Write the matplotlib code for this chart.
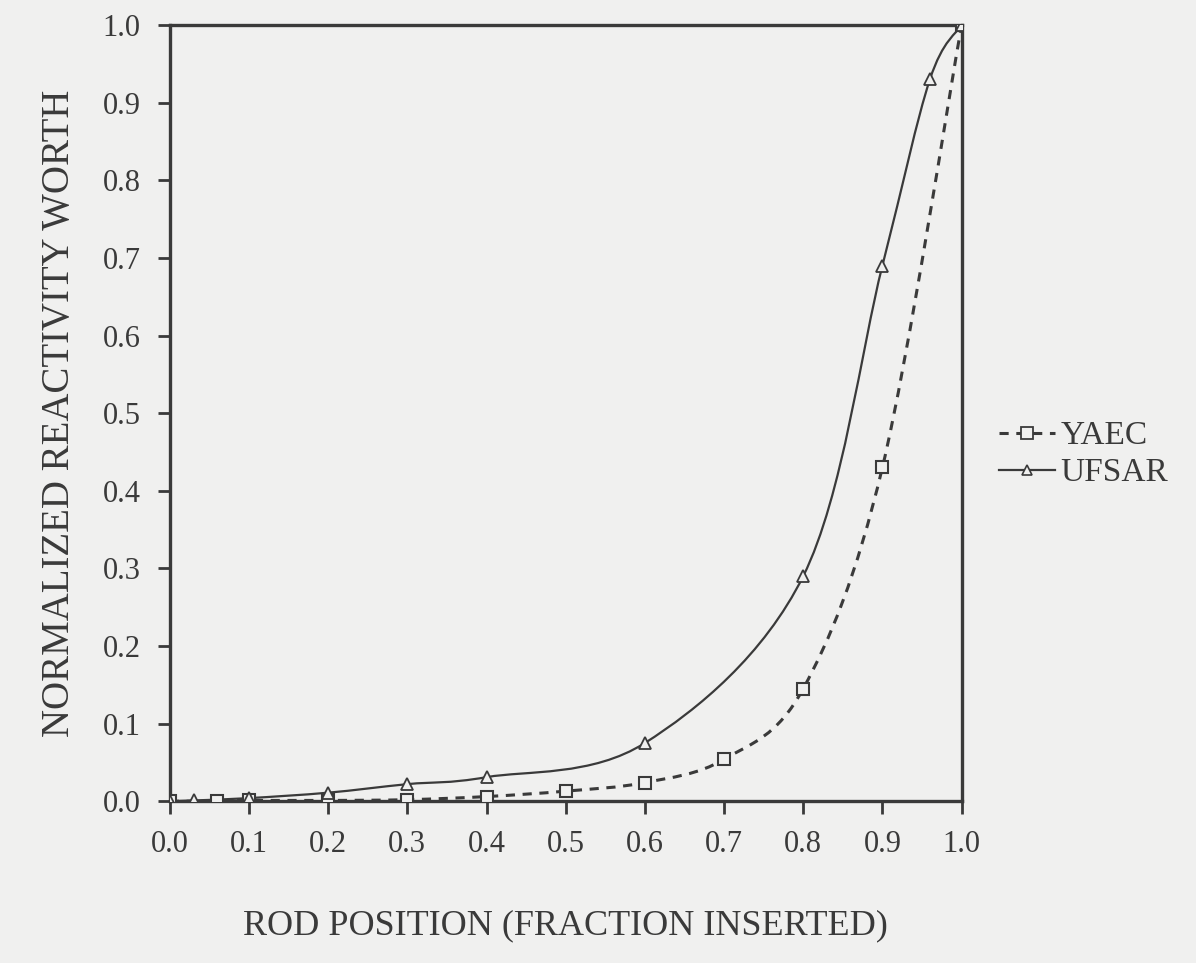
import matplotlib.pyplot as plt
from matplotlib.path import Path
from matplotlib.patches import PathPatch

# YAEC curve (squares, dashed)
yaec_x = [0.0, 0.06, 0.1, 0.2, 0.3, 0.4, 0.5, 0.6, 0.7, 0.8, 0.9, 1.0]
yaec_y = [0.0, 0.0, 0.001, 0.001, 0.002, 0.006, 0.013, 0.024, 0.054, 0.145, 0.43, 1.0]

# UFSAR curve (triangles, solid)
ufsar_x = [0.0, 0.03, 0.1, 0.2, 0.3, 0.4, 0.6, 0.8, 0.9, 0.96, 1.0]
ufsar_y = [0.0, 0.001, 0.004, 0.011, 0.022, 0.031, 0.075, 0.29, 0.69, 0.93, 1.0]

ticks = [0.0, 0.1, 0.2, 0.3, 0.4, 0.5, 0.6, 0.7, 0.8, 0.9, 1.0]
tick_labels = ['0.0', '0.1', '0.2', '0.3', '0.4', '0.5', '0.6', '0.7', '0.8', '0.9', '1.0']

ink = '#3a3a3a'
paper = '#f0f0ef'
plt.rcParams['font.family'] = ['Liberation Serif', 'DejaVu Serif']


def smooth_path(xs, ys):
    # Catmull-Rom curve through the points, as cubic Bezier segments
    pts = list(zip(xs, ys))
    verts = [pts[0]]
    codes = [Path.MOVETO]
    n = len(pts)
    for i in range(n - 1):
        p0 = pts[i - 1] if i > 0 else pts[i]
        p1 = pts[i]
        p2 = pts[i + 1]
        p3 = pts[i + 2] if i + 2 < n else pts[i + 1]
        c1 = (p1[0] + (p2[0] - p0[0]) / 6, p1[1] + (p2[1] - p0[1]) / 6)
        c2 = (p2[0] - (p3[0] - p1[0]) / 6, p2[1] - (p3[1] - p1[1]) / 6)
        verts += [c1, c2, p2]
        codes += [Path.CURVE4] * 3
    return Path(verts, codes)


fig = plt.figure(figsize=(11.96, 9.63), dpi=100, facecolor=paper)
ax = fig.add_axes([0.142, 0.168, 0.662, 0.806], facecolor=paper)

ax.add_patch(PathPatch(smooth_path(yaec_x, yaec_y), fill=False, edgecolor=ink,
                       lw=2.2, linestyle=(0, (3, 2.5)), zorder=3))
ax.add_patch(PathPatch(smooth_path(ufsar_x, ufsar_y), fill=False, edgecolor=ink,
                       lw=1.6, zorder=3))

ax.plot(yaec_x, yaec_y, linestyle='none', marker='s', ms=9, mfc=paper,
        mec=ink, mew=1.5, zorder=4)
ax.plot(ufsar_x, ufsar_y, linestyle='none', marker='^', ms=8, mfc=paper,
        mec=ink, mew=1.3, zorder=4)

# legend proxies
ax.plot([], [], linestyle=(0, (3, 2.5)), lw=2.2, color=ink, marker='s', ms=8,
        mfc=paper, mec=ink, mew=1.3, label='YAEC')
ax.plot([], [], linestyle='-', lw=1.6, color=ink, marker='^', ms=7,
        mfc=paper, mec=ink, mew=1.2, label='UFSAR')

ax.set_xlim(0, 1.0)
ax.set_ylim(0, 1.0)
ax.set_xticks(ticks)
ax.set_xticklabels(tick_labels)
ax.set_yticks(ticks)
ax.set_yticklabels(tick_labels)
ax.tick_params(direction='out', length=9, width=2, color=ink, labelcolor=ink,
               labelsize=22, pad=12)

for s in ax.spines.values():
    s.set_linewidth(2.4)
    s.set_color(ink)

ax.set_xlabel('ROD POSITION (FRACTION INSERTED)', fontsize=26, color=ink, labelpad=36)
ax.set_ylabel('NORMALIZED REACTIVITY WORTH', fontsize=28, color=ink, labelpad=18)

fig.legend(loc='center left', bbox_to_anchor=(0.81, 0.528), frameon=False,
           fontsize=24, handlelength=1.7, handletextpad=0.15, labelspacing=0.2,
           labelcolor=ink)

fig.savefig('out.png', dpi=100, facecolor=paper)
